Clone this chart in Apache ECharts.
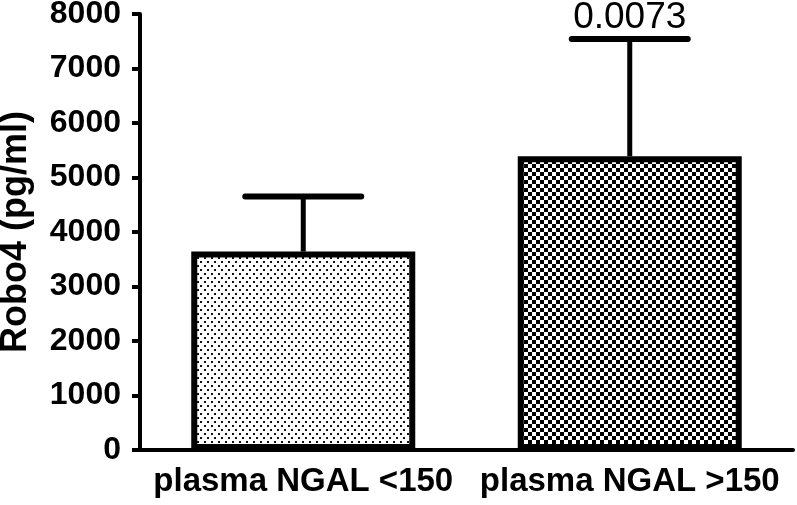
<!DOCTYPE html>
<html>
<head>
<meta charset="utf-8">
<script src="https://cdn.jsdelivr.net/npm/echarts@6/dist/echarts.min.js"></script>
<style>
  html, body { margin: 0; padding: 0; background: #fff; }
  #robo4Chart { width: 797px; height: 505px; }
</style>
</head>
<body>
<div id="robo4Chart"></div>
<script>
// chart values
const categories = ['plasma NGAL <150', 'plasma NGAL >150']
const means = [3640, 5390]
const errTops = [4650, 7540]
const pLabels = ['', '0.0073']
const yTicks = [0, 1000, 2000, 3000, 4000, 5000, 6000, 7000, 8000]

const font = '"Liberation Sans", Arial, sans-serif'

// fill patterns for the two bars
function dotPattern() {
  const c = document.createElement('canvas')
  c.width = 7
  c.height = 8
  const ctx = c.getContext('2d')
  ctx.fillStyle = '#fff'
  ctx.fillRect(0, 0, 7, 8)
  ctx.fillStyle = '#111'
  ctx.fillRect(1, 1, 2, 2)
  ctx.fillRect(4, 5, 2, 2)
  return c
}

function checkPattern() {
  const c = document.createElement('canvas')
  c.width = 8
  c.height = 8
  const ctx = c.getContext('2d')
  ctx.fillStyle = '#fff'
  ctx.fillRect(0, 0, 8, 8)
  ctx.fillStyle = '#000'
  ctx.fillRect(0, 0, 4, 4)
  ctx.fillRect(4, 4, 4, 4)
  return c
}

const patterns = [dotPattern(), checkPattern()]

const chart = echarts.init(document.getElementById('robo4Chart'))

const option = {
  animation: false,
  backgroundColor: '#fff',
  grid: {
    left: 140,
    right: 4,
    top: 14,
    bottom: 55,
    outerBoundsMode: 'none'
  },
  xAxis: {
    type: 'category',
    data: categories,
    axisLine: { lineStyle: { color: '#000', width: 4 } },
    axisTick: { alignWithLabel: true, length: 8, lineStyle: { color: '#000', width: 4 } },
    axisLabel: {
      interval: 0,
      color: '#000',
      fontFamily: font,
      fontWeight: 'bold',
      fontSize: 33,
      margin: 15
    }
  },
  yAxis: {
    type: 'value',
    min: yTicks[0],
    max: yTicks[yTicks.length - 1],
    interval: 1000,
    name: 'Robo4 (pg/ml)',
    nameLocation: 'middle',
    nameGap: 106,
    nameTextStyle: {
      color: '#000',
      fontFamily: font,
      fontWeight: 'bold',
      fontSize: 36
    },
    axisLine: { show: true, lineStyle: { color: '#000', width: 4 } },
    axisTick: { show: true, length: 8, lineStyle: { color: '#000', width: 4 } },
    splitLine: { show: false },
    axisLabel: {
      color: '#000',
      fontFamily: font,
      fontWeight: 'bold',
      fontSize: 32,
      margin: 19,
      formatter: v => String(v)
    }
  },
  series: [
    {
      type: 'custom',
      z: 1,
      data: means.map((m, i) => [i, m, errTops[i]]),
      renderItem: function(params, api) {
        const i = api.value(0)
        const base = api.coord([i, api.value(1)])
        const top = api.coord([i, api.value(2)])
        const half = 58
        return {
          type: 'group',
          children: [
            {
              type: 'line',
              shape: { x1: base[0], y1: base[1], x2: top[0], y2: top[1] },
              style: { stroke: '#000', lineWidth: 5 }
            },
            {
              type: 'line',
              shape: { x1: top[0] - half, y1: top[1], x2: top[0] + half, y2: top[1] },
              style: { stroke: '#000', lineWidth: 6, lineCap: 'round' }
            },
            {
              type: 'text',
              style: {
                text: pLabels[params.dataIndex],
                x: top[0],
                y: top[1] - 3,
                textAlign: 'center',
                textVerticalAlign: 'bottom',
                font: '37px ' + font,
                fill: '#000'
              }
            }
          ]
        }
      }
    },
    {
      type: 'bar',
      z: 2,
      barWidth: 224,
      data: means.map((m, i) => ({
        value: m,
        itemStyle: {
          color: { image: patterns[i], repeat: 'repeat' },
          borderColor: '#000',
          borderWidth: 6
        }
      }))
    }
  ]
}

chart.setOption(option)
</script>
</body>
</html>
